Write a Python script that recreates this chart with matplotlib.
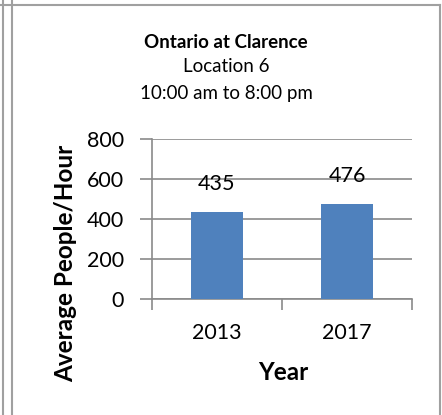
import numpy as np
import matplotlib.pyplot as plt
from matplotlib.lines import Line2D

# chart data
years = ["2013", "2017"]
people_per_hour = [435, 476]
y_ticks = [0, 200, 400, 600, 800]

W, H = 442, 415
plt.rcParams['font.family'] = ['Lato', 'DejaVu Sans']

fig = plt.figure(figsize=(W / 100, H / 100), dpi=100)
fig.patch.set_facecolor('white')

# axes placed in pixel terms of the reference
ax = fig.add_axes([152 / W, (H - 299) / H, 260 / W, 160 / H])
x = np.arange(len(years))
bars = ax.bar(x, people_per_hour, width=0.4, color='#4F81BD', zorder=3)
ax.set_xlim(-0.5, len(years) - 0.5)
ax.set_ylim(0, 800)
ax.set_yticks(y_ticks)
ax.set_yticklabels([str(v) for v in y_ticks], fontsize=15.5)
ax.yaxis.grid(True, color='#8a8a8a', linewidth=1.2, zorder=0)
ax.set_axisbelow(True)

# category ticks sit between bars
ax.set_xticks([-0.5, 0.5, 1.5])
ax.set_xticklabels([])
ax.tick_params(axis='x', direction='out', length=8, color='#8a8a8a', width=1.2)
ax.tick_params(axis='y', direction='out', length=9, color='#8a8a8a', width=1.2, pad=11)
for i, yr in enumerate(years):
    ax.text(i, -170, yr, ha='center', va='center', fontsize=15.5)

for s in ['top', 'right']:
    ax.spines[s].set_visible(False)
ax.spines['left'].set_color('#8a8a8a')
ax.spines['bottom'].set_color('#8a8a8a')
ax.spines['left'].set_linewidth(1.2)
ax.spines['bottom'].set_linewidth(1.2)

for b, v in zip(bars, people_per_hour):
    ax.text(b.get_x() + b.get_width() / 2, v + 140, str(v), ha='center',
            va='center', fontsize=15.5)

# titles
fig.text(226 / W, 1 - 42 / H, "Ontario at Clarence", ha='center', va='center',
         fontsize=13.5, fontweight='bold')
fig.text(226 / W, 1 - 67 / H, "Location 6", ha='center', va='center', fontsize=13.5)
fig.text(226 / W, 1 - 93 / H, "10:00 am to 8:00 pm", ha='center', va='center', fontsize=13.5)

fig.text(66 / W, 1 - 263 / H, "Average People/Hour", rotation=90, ha='center',
         va='center', fontsize=17.5, fontweight='bold')
fig.text(283 / W, 1 - 372 / H, "Year", ha='center', va='center', fontsize=17.5,
         fontweight='bold')

# frame lines around the chart
gray = '#a0a0a0'
fig.add_artist(Line2D([3 / W, 3 / W], [0, 1], color=gray, lw=1.5))
fig.add_artist(Line2D([12 / W, 12 / W], [0, 1], color=gray, lw=1.5))
fig.add_artist(Line2D([0, 440 / W], [1 - 5 / H, 1 - 5 / H], color=gray, lw=1.5))
fig.add_artist(Line2D([440 / W, 440 / W], [0, 1 - 5 / H], color=gray, lw=1.5))

fig.savefig("out.png", dpi=100)
